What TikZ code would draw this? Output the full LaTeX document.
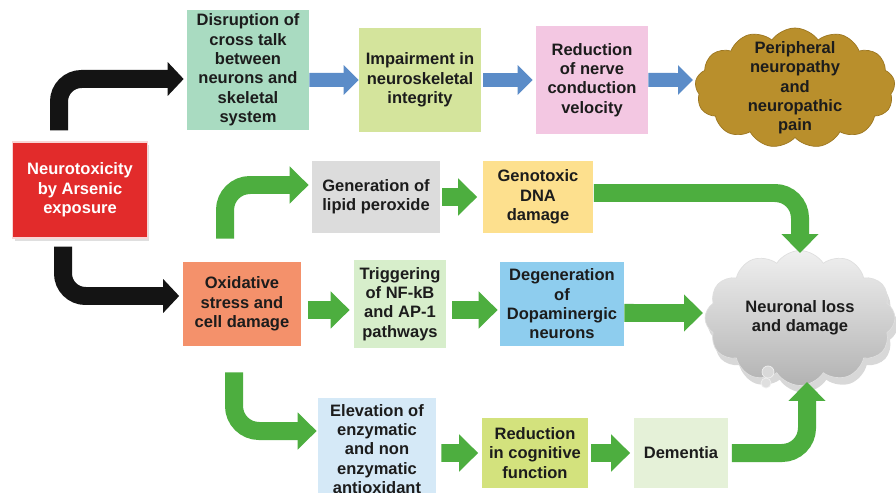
\documentclass[tikz,border=0pt]{standalone}
\usepackage{fontspec}
\setmainfont{Liberation Sans}
\usetikzlibrary{arrows.meta,shapes.symbols,shadows}
\definecolor{arsred}{HTML}{E22B2B}
\definecolor{mint}{HTML}{A9DBC1}
\definecolor{limepale}{HTML}{D4E49C}
\definecolor{pinkpale}{HTML}{F3C7E2}
\definecolor{gold}{HTML}{B98F2C}
\definecolor{golddark}{HTML}{9C7620}
\definecolor{greypale}{HTML}{DCDCDC}
\definecolor{yellowpale}{HTML}{FDE08E}
\definecolor{salmon}{HTML}{F4916B}
\definecolor{greenpale}{HTML}{D7EECB}
\definecolor{skyblue}{HTML}{8ECDEE}
\definecolor{bluepale}{HTML}{D5E9F7}
\definecolor{limemid}{HTML}{D3E27D}
\definecolor{greenwash}{HTML}{E5F1D8}
\definecolor{arrowblue}{HTML}{5B8CC8}
\definecolor{arrowgreen}{HTML}{4DAE3F}
\definecolor{textdark}{HTML}{1C1C1C}

\begin{document}
\begin{tikzpicture}[
  x=0.02cm, y=-0.02cm,
  font=\fontsize{9.4}{11}\selectfont\bfseries,
  box/.style={
    align=center,
    inner sep=2pt,
    text=textdark
  },
  redbox/.style={
    box,
    fill=arsred,
    draw=white!80!arsred,
    line width=0.8pt,
    text=white,
    drop shadow={shadow xshift=0.04cm, shadow yshift=-0.06cm, opacity=0.25}
  },
  cloudbox/.style={
    cloud,
    align=center,
    text=textdark
  },
  bluearrow/.style={-{Triangle[length=0.3cm,width=0.58cm]}, line width=0.28cm, draw=arrowblue},
  greenarrow/.style={-{Triangle[length=0.38cm,width=0.72cm]}, line width=0.36cm, draw=arrowgreen, rounded corners=0.5cm},
  blackarrow/.style={-{Triangle[length=0.32cm,width=0.66cm]}, line width=0.36cm, draw=black!92, rounded corners=0.45cm}
]
  \useasboundingbox (0,0) rectangle (896,493);
  \clip (0,0) rectangle (896,493);
  \fill[white] (0,0) rectangle (896,493);

  \node[redbox, minimum width=2.7cm, minimum height=1.92cm] (neuro) at (80,190) {Neurotoxicity\\by Arsenic\\exposure};

  \node[box, fill=mint, minimum width=2.44cm, minimum height=2.3cm] (disrupt) at (248,70) {Disruption of\\cross talk\\between\\neurons and\\skeletal\\system};
  \node[box, fill=limepale, minimum width=2.44cm, minimum height=2.1cm] (impair) at (420,80) {Impairment in\\neuroskeletal\\integrity};
  \node[box, fill=pinkpale, minimum width=2.24cm, minimum height=2.16cm] (nerve) at (592,80) {Reduction\\of nerve\\conduction\\velocity};
  \node[cloudbox, cloud puffs=13, cloud puff arc=110, aspect=1.7, fill=gold, draw=golddark, inner sep=-6pt,
        minimum width=4cm, minimum height=2.4cm] (peripheral) at (795,88) {Peripheral\\neuropathy\\and\\neuropathic\\pain};

  \node[box, fill=greypale, minimum width=2.56cm, minimum height=1.46cm] (lipid) at (376,197) {Generation of\\lipid peroxide};
  \node[box, fill=yellowpale, minimum width=2.22cm, minimum height=1.46cm] (genotoxic) at (538,197) {Genotoxic\\DNA\\damage};

  \node[box, fill=salmon, minimum width=2.38cm, minimum height=1.68cm] (oxidative) at (242,304) {Oxidative\\stress and\\cell damage};
  \node[box, fill=greenpale, minimum width=1.84cm, minimum height=1.78cm] (triggering) at (400,304) {Triggering\\of NF-kB\\and AP-1\\pathways};
  \node[box, fill=skyblue, minimum width=2.48cm, minimum height=1.7cm] (degeneration) at (562,304) {Degeneration\\of\\Dopaminergic\\neurons};
  \node[cloudbox, cloud puffs=12, cloud puff arc=115, aspect=1.6, top color=gray!12, bottom color=gray!60,
        draw=gray!25, inner sep=2pt, minimum width=3.8cm, minimum height=2.7cm,
        drop shadow={shadow xshift=0.06cm, shadow yshift=-0.14cm, opacity=0.3}] (neuronal) at (800,318) {Neuronal loss\\and damage};
  \filldraw[fill=gray!30, draw=gray!12] (768,372) circle (6);
  \filldraw[fill=gray!25, draw=gray!12] (766,383) circle (5);

  \node[box, fill=bluepale, minimum width=2.36cm, minimum height=2.04cm] (elevation) at (377,449) {Elevation of\\enzymatic\\and non\\enzymatic\\antioxidant};
  \node[box, fill=limemid, minimum width=2.14cm, minimum height=1.42cm] (cognitive) at (535,453) {Reduction\\in cognitive\\function};
  \node[box, fill=greenwash, minimum width=1.9cm, minimum height=1.42cm] (dementia) at (681,453) {Dementia};

  \draw[blackarrow] ([xshift=-0.42cm,yshift=0.22cm]neuro.north) |- ([xshift=-0.06cm,yshift=-0.18cm]disrupt.west);
  \draw[blackarrow] ([xshift=-0.34cm,yshift=-0.16cm]neuro.south) |- ([xshift=-0.06cm,yshift=0.16cm]oxidative.west);

  \draw[bluearrow] ([yshift=-0.2cm]disrupt.east) -- (impair.west);
  \draw[bluearrow, shorten <=0.04cm, shorten >=0.06cm] (impair.east) -- (nerve.west);
  \draw[bluearrow] (nerve.east) -- ([shift={(-2.04cm,0.16cm)}]peripheral.center);

  \draw[greenarrow] ([xshift=-0.34cm,yshift=0.46cm]oxidative.north) |- ([xshift=-0.06cm,yshift=0.24cm]lipid.west);
  \draw[greenarrow, shorten <=0.04cm, shorten >=0.1cm] (lipid.east) -- (genotoxic.west);
  \draw[greenarrow] ([yshift=0.08cm]genotoxic.east) -| ([yshift=1.3cm]neuronal.center);

  \draw[greenarrow, shorten <=0.12cm, shorten >=0.08cm] ([yshift=-0.12cm]oxidative.east) -- ([yshift=-0.12cm]triggering.west);
  \draw[greenarrow, shorten <=0.12cm, shorten >=0.04cm] ([yshift=-0.12cm]triggering.east) -- ([yshift=-0.12cm]degeneration.west);
  \draw[greenarrow] ([yshift=-0.18cm]degeneration.east) -- ([shift={(-1.94cm,0.1cm)}]neuronal.center);

  \draw[greenarrow] ([xshift=-0.16cm,yshift=-0.52cm]oxidative.south) |- ([xshift=-0.02cm,yshift=0.36cm]elevation.west);
  \draw[greenarrow, shorten >=0.06cm] ([shift={(0.1cm,-0.08cm)}]elevation.east) -- (cognitive.west);
  \draw[greenarrow, shorten <=0.04cm, shorten >=0.06cm] (cognitive.east) -- (dementia.west);
  \draw[greenarrow] ([xshift=0.06cm]dementia.east) -| ([shift={(0.14cm,-1.28cm)}]neuronal.center);
\end{tikzpicture}
\end{document}
